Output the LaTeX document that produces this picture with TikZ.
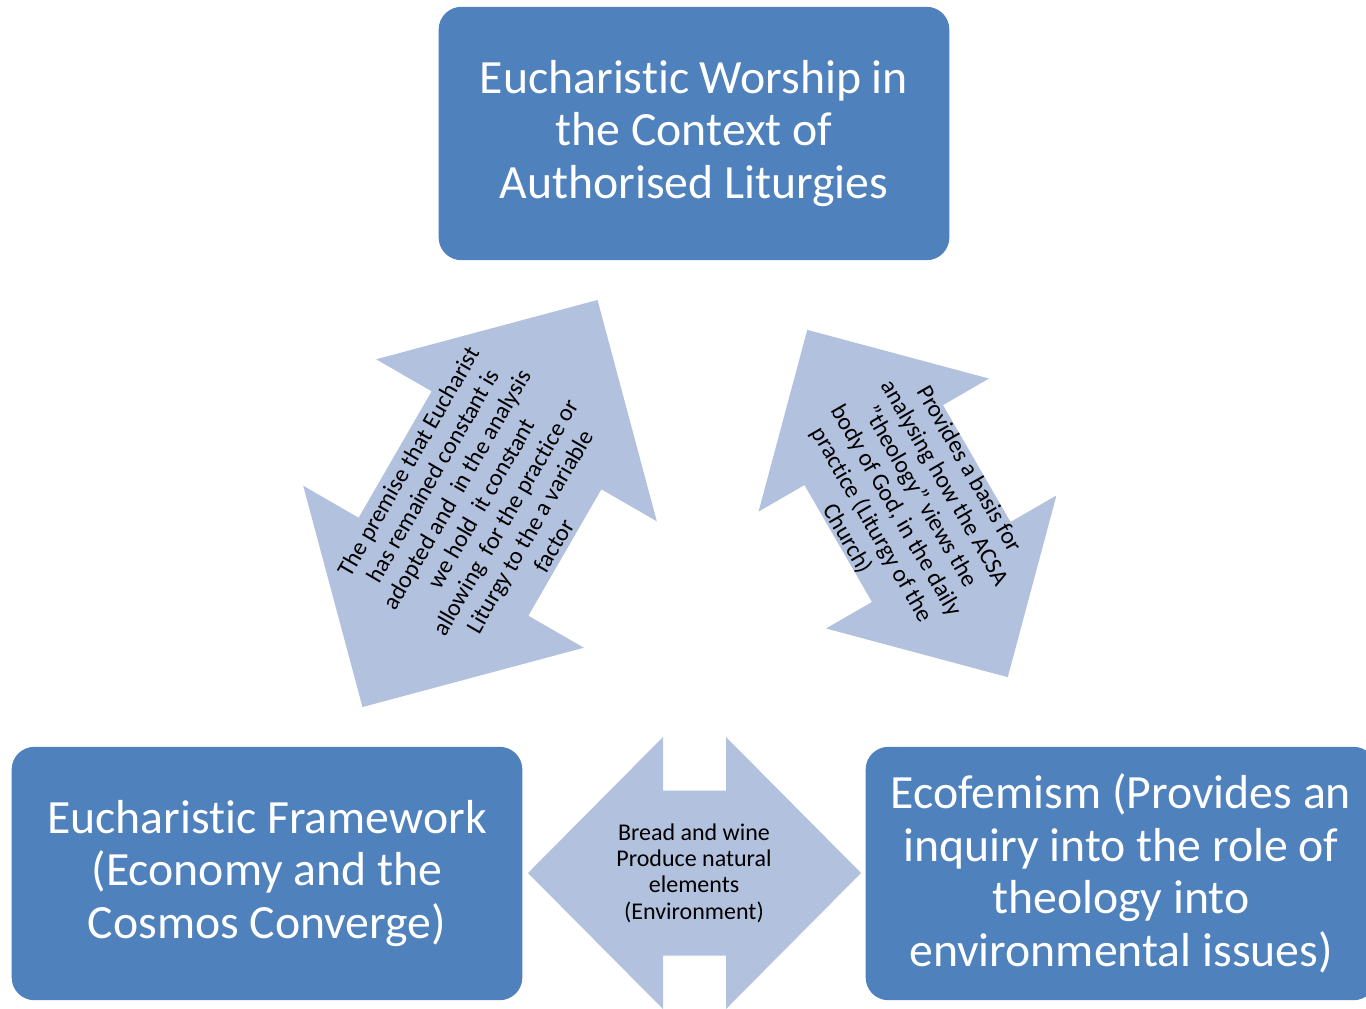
\documentclass[tikz,border=0pt]{standalone}
\usepackage{fontspec}
\setmainfont[Ligatures=NoCommon]{Carlito}
\definecolor{boxblue}{HTML}{4F81BD}
\definecolor{arrowblue}{HTML}{B2C1DD}
\newcommand{\dblarrowpath}[4]{% halflen, headlen, headhalf, shafthalf
  \fill[arrowblue] (-#1,0) -- (-#1+#2,#3) -- (-#1+#2,#4) -- (#1-#2,#4) -- (#1-#2,#3)
    -- (#1,0) -- (#1-#2,-#3) -- (#1-#2,-#4) -- (-#1+#2,-#4) -- (-#1+#2,-#3) -- cycle;}
\begin{document}
\begin{tikzpicture}[x=0.75pt,y=-0.75pt,
  mainbox/.style={fill=boxblue, rounded corners=17pt, text=white, align=center,
    font=\fontsize{35.8}{39.4}\selectfont, minimum width=383pt, minimum height=190pt, inner sep=0pt},
  arrowtext/.style={align=center, text=black, font=\fontsize{18}{21}\selectfont, inner sep=0pt}]
\useasboundingbox (0,0) rectangle (1366,1008);
\clip (0,0) rectangle (1366,1008);
\fill[white] (0,0) rectangle (1366,1008);

% left diagonal double arrow
\begin{scope}[shift={(480,503.5)}, rotate=60]
  \dblarrowpath{235}{162}{162}{98}
\end{scope}
\node[arrowtext, rotate=60] (premise) at (481,503.5)
  {The premise that Eucharist\\has remained constant is\\adopted and\ \ in the analysis\\we hold\ \ it constant\\allowing\ \ for the practice or\\Liturgy to the a variable\\factor};

% right diagonal double arrow
\begin{scope}[shift={(907.5,503.5)}, rotate=-60]
  \dblarrowpath{200.5}{133}{133}{80}
\end{scope}
\node[arrowtext, rotate=-60] (basis) at (908,504)
  {Provides a basis for\\analysing how the ACSA\\"theology" views the\\body of God, in the daily\\practice (Liturgy of the\\Church)};

% bottom horizontal double arrow
\begin{scope}[shift={(694.5,873)}]
  \dblarrowpath{166.5}{135}{136}{82.5}
\end{scope}
\node[arrowtext, font=\fontsize{18}{19.8}\selectfont] (bread) at (694,873)
  {Bread and wine\\Produce natural\\elements\\(Environment)};

% boxes
\node[mainbox] (worship) at (694,133.5)
  {Eucharistic Worship in\\the Context of\\Authorised Liturgies};
\node[mainbox] (framework) at (267,873.5)
  {Eucharistic Framework\\(Economy and the\\Cosmos Converge)};
\node[mainbox] (ecofem) at (1121,873.5)
  {Ecofemism (Provides an\\inquiry into the role of\\theology into\\environmental issues)};
\end{tikzpicture}
\end{document}
